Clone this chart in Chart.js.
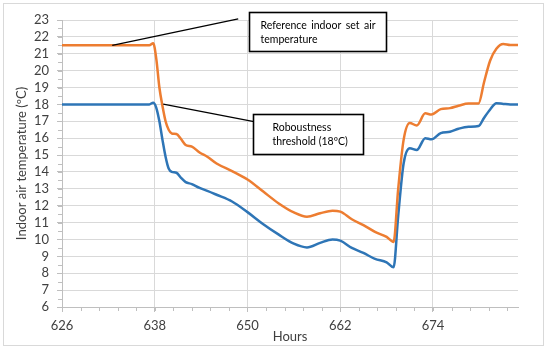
<!DOCTYPE html>
<html>
<head>
<meta charset="utf-8">
<script src="https://cdn.jsdelivr.net/npm/chart.js@4.4.0/dist/chart.umd.min.js"></script>
<style>
  body { margin: 0; background: #fff; }
</style>
</head>
<body>
<canvas id="myChart" width="550" height="350"></canvas>
<script>
var hours = [626, 630, 634, 637.3, 637.8, 638.2, 638.6, 639.0, 639.4, 639.8,
  640.2, 640.8, 641.4, 642.0, 642.8, 643.8, 644.8, 646, 648, 650,
  652, 654, 656, 657.7, 659.4, 661, 662, 663.5, 665, 666.5,
  668, 668.9, 669.5, 670.2, 671.0, 671.9, 673.0, 673.8, 675, 676.2,
  677.3, 678.6, 679.9, 680.6, 681.4, 682.2, 683.1, 684, 685];

// orange: reference indoor set air temperature
var setAirTemp = [21.5, 21.5, 21.5, 21.5, 21.62, 20.7, 19.0, 17.9, 17.0, 16.5,
  16.28, 16.25, 15.95, 15.6, 15.5, 15.15, 14.9, 14.5, 14.05, 13.55,
  12.85, 12.15, 11.6, 11.35, 11.55, 11.7, 11.65, 11.2, 10.85, 10.45,
  10.15, 9.85, 13.0, 15.9, 16.9, 16.75, 17.47, 17.4, 17.72, 17.78,
  17.92, 18.05, 18.06, 19.3, 20.6, 21.3, 21.58, 21.52, 21.52];

// blue: robustness threshold (18 C)
var thresholdTemp = [18, 18, 18, 18, 18.1, 17.8, 17.0, 15.9, 14.9, 14.2,
  14.0, 13.95, 13.65, 13.4, 13.28, 13.05, 12.88, 12.65, 12.25, 11.62,
  10.92, 10.3, 9.75, 9.53, 9.8, 10.0, 9.93, 9.5, 9.2, 8.85,
  8.65, 8.35, 11.4, 14.5, 15.4, 15.3, 16.0, 15.93, 16.3, 16.38,
  16.56, 16.68, 16.72, 17.2, 17.7, 18.07, 18.03, 18.0, 18.0];

var xTickValues = [626, 638, 650, 662, 674];
var noteRefText = ["Reference indoor set air", "temperature"];
var noteThrText = ["Roboustness", "threshold (18ºC)"];

var FONT = "Lato, 'Liberation Sans', sans-serif";
var TEXT = '#404040';

function toPoints(values) {
  return hours.map(function(h, i) { return {x: h, y: values[i]}; });
}

// callouts, in data units so they follow the scales
var notes = [
  {lines: noteRefText, justify: true, box: [650.2, 23.47, 667.9, 21.16], pad: 11, from: [632.5, 21.5], to: [648.8, 23.06]},
  {lines: noteThrText, justify: false, box: [650.7, 17.43, 664.9, 15.06], pad: 19, from: [639.1, 18.02], to: [651.0, 16.96]}
];

var frame = {
  id: 'frame',
  beforeDraw: function(chart) {
    var ctx = chart.ctx;
    ctx.save();
    ctx.fillStyle = '#fff';
    ctx.fillRect(0, 0, chart.width, chart.height);
    ctx.strokeStyle = '#d9d9d9';
    ctx.lineWidth = 1;
    ctx.strokeRect(3.5, 3.5, chart.width - 10, chart.height - 8);
    ctx.restore();
  }
};

var minorTicks = {
  id: 'minorTicks',
  afterDraw: function(chart) {
    var ctx = chart.ctx, xs = chart.scales.x, ys = chart.scales.y, a = chart.chartArea;
    ctx.save();
    ctx.strokeStyle = '#bfbfbf';
    ctx.lineWidth = 1;
    ctx.beginPath();
    for (var v = 6; v <= 23; v += 0.5) {
      var y = Math.round(ys.getPixelForValue(v)) + 0.5;
      ctx.moveTo(a.left - 4, y);
      ctx.lineTo(a.left, y);
    }
    for (var k = 0; k < 25; k++) {
      var h = 626 + k * 2.4;
      if (h > 685) break;
      var x = Math.round(xs.getPixelForValue(h)) + 0.5;
      ctx.moveTo(x, a.bottom);
      ctx.lineTo(x, a.bottom + 4);
    }
    ctx.stroke();
    ctx.restore();
  }
};

var callouts = {
  id: 'callouts',
  afterDraw: function(chart) {
    var ctx = chart.ctx, xs = chart.scales.x, ys = chart.scales.y;
    ctx.save();
    notes.forEach(function(n) {
      ctx.strokeStyle = '#000';
      ctx.lineWidth = 1.3;
      ctx.beginPath();
      ctx.moveTo(xs.getPixelForValue(n.from[0]), ys.getPixelForValue(n.from[1]));
      ctx.lineTo(xs.getPixelForValue(n.to[0]), ys.getPixelForValue(n.to[1]));
      ctx.stroke();

      var x1 = Math.round(xs.getPixelForValue(n.box[0])) + 0.5;
      var y1 = Math.round(ys.getPixelForValue(n.box[1])) + 0.5;
      var x2 = Math.round(xs.getPixelForValue(n.box[2])) + 0.5;
      var y2 = Math.round(ys.getPixelForValue(n.box[3])) + 0.5;
      ctx.fillStyle = '#fff';
      ctx.fillRect(x1, y1, x2 - x1, y2 - y1);
      ctx.lineWidth = 1.6;
      ctx.strokeRect(x1, y1, x2 - x1, y2 - y1);

      ctx.fillStyle = '#000';
      ctx.font = '10.5px ' + FONT;
      ctx.textBaseline = 'middle';
      ctx.textAlign = 'left';
      n.lines.forEach(function(line, i) {
        var ty = y1 + 13 + i * 14;
        var tx = x1 + n.pad;
        if (n.justify && i === 0) {
          var words = line.split(' ');
          var total = 0;
          words.forEach(function(w) { total += ctx.measureText(w).width; });
          var gap = (x2 - x1 - 2 * n.pad - total) / (words.length - 1);
          words.forEach(function(w) {
            ctx.fillText(w, tx, ty);
            tx += ctx.measureText(w).width + gap;
          });
        } else {
          ctx.fillText(line, tx, ty);
        }
      });
    });
    ctx.restore();
  }
};

var ctx = document.getElementById('myChart').getContext('2d');
var chart = new Chart(ctx, {
  type: 'line',
  data: {
    datasets: [{
      label: 'Reference indoor set air temperature',
      data: toPoints(setAirTemp),
      borderColor: '#ED7D31',
      borderWidth: 2.5,
      pointRadius: 0,
      cubicInterpolationMode: 'monotone',
      fill: false
    }, {
      label: 'Roboustness threshold (18ºC)',
      data: toPoints(thresholdTemp),
      borderColor: '#2E75B6',
      borderWidth: 2.5,
      pointRadius: 0,
      cubicInterpolationMode: 'monotone',
      fill: false
    }]
  },
  options: {
    responsive: false,
    devicePixelRatio: 1,
    animation: false,
    layout: { padding: { left: 0, right: 32, top: 20, bottom: 0 } },
    plugins: { legend: { display: false }, tooltip: { enabled: false } },
    scales: {
      x: {
        type: 'linear',
        min: 626,
        max: 685,
        afterBuildTicks: function(s) { s.ticks = xTickValues.map(function(v) { return {value: v}; }); },
        afterFit: function(s) { s.height = 43; },
        ticks: { autoSkip: false, maxRotation: 0, padding: 6, color: TEXT, font: { family: FONT, size: 13 } },
        grid: { color: '#d9d9d9', tickLength: 5, tickColor: '#bfbfbf' },
        border: { color: '#bfbfbf' },
        title: { display: true, text: 'Hours', color: TEXT, font: { family: FONT, size: 13 }, padding: { top: 0, bottom: 5 } }
      },
      y: {
        min: 6,
        max: 23,
        afterFit: function(s) { s.width = 62; },
        ticks: { stepSize: 1, autoSkip: false, maxTicksLimit: 30, padding: 8, color: TEXT, font: { family: FONT, size: 13 } },
        grid: { color: '#d9d9d9', tickLength: 5, tickColor: '#bfbfbf' },
        border: { color: '#bfbfbf' },
        title: { display: true, text: 'Indoor air temperature (ºC)', color: TEXT, font: { family: FONT, size: 13 }, padding: { top: 14, bottom: 0 } }
      }
    }
  },
  plugins: [frame, minorTicks, callouts]
});
</script>
</body>
</html>
